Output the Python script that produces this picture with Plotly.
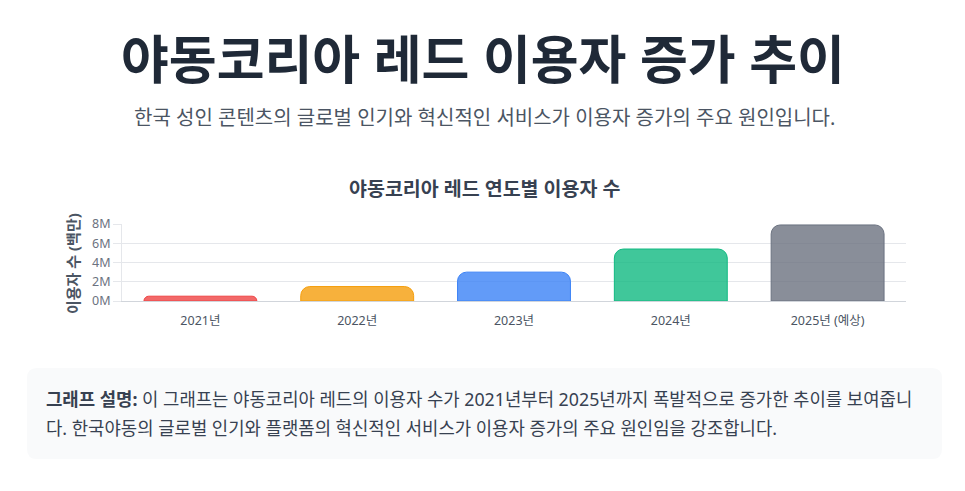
import plotly.graph_objects as go

# -----------------------------------
# data
# -----------------------------------
years = ["2021년", "2022년", "2023년", "2024년", "2025년 (예상)"]
users_m = [0.5, 1.5, 3.0, 5.4, 7.9]
y_ticks = [0, 2, 4, 6, 8]
y_tick_labels = ["0M", "2M", "4M", "6M", "8M"]

fill_colors = ["rgba(239,68,68,0.8)", "rgba(245,158,11,0.8)", "rgba(59,130,246,0.8)",
               "rgba(16,185,129,0.8)", "rgba(107,114,128,0.8)"]
line_colors = ["#ef4444", "#f59e0b", "#3b82f6", "#10b981", "#6b7280"]

title = "야동코리아 레드 이용자 증가 추이"
subtitle = "한국 성인 콘텐츠의 글로벌 인기와 혁신적인 서비스가 이용자 증가의 주요 원인입니다."
chart_title = "야동코리아 레드 연도별 이용자 수"
y_title = "이용자 수 (백만)"
note_1 = ("<b>그래프 설명:</b> 이 그래프는 야동코리아 레드의 이용자 수가 "
          "2021년부터 2025년까지 폭발적으로 증가한 추이를 보여줍니")
note_2 = "다. 한국야동의 글로벌 인기와 플랫폼의 혁신적인 서비스가 이용자 증가의 주요 원인임을 강조합니다."

FONT = "Noto Sans, Noto Sans CJK KR, sans-serif"

# page geometry (pixels in the browser window) -> plot area
PAGE_OFFSET = 8  # body margin of the html page
W, H = 965 - PAGE_OFFSET, 491 - PAGE_OFFSET
L, R, T, B = 122, 906, 224, 301


def px_x(px):
    return (px - L) / (R - L)


def px_y(py):
    return (B - py) / (B - T)


fig = go.Figure()
fig.add_trace(go.Bar(
    x=years,
    y=users_m,
    marker=dict(color=fill_colors, line=dict(color=line_colors, width=1), cornerradius=9),
    hovertemplate="%{x}: %{y}M<extra></extra>",
))

# rounded background box for the note
x0, x1, y0, y1, r = 27, 942, 368, 459, 10
path = (
    f"M {px_x(x0 + r)},{px_y(y0)} L {px_x(x1 - r)},{px_y(y0)} "
    f"Q {px_x(x1)},{px_y(y0)} {px_x(x1)},{px_y(y0 + r)} "
    f"L {px_x(x1)},{px_y(y1 - r)} Q {px_x(x1)},{px_y(y1)} {px_x(x1 - r)},{px_y(y1)} "
    f"L {px_x(x0 + r)},{px_y(y1)} Q {px_x(x0)},{px_y(y1)} {px_x(x0)},{px_y(y1 - r)} "
    f"L {px_x(x0)},{px_y(y0 + r)} Q {px_x(x0)},{px_y(y0)} {px_x(x0 + r)},{px_y(y0)} Z"
)
fig.add_shape(type="path", path=path, xref="paper", yref="paper",
              fillcolor="#f9fafb", line=dict(width=0), layer="below")

texts = [
    (title, 483, 58, 52, "#1f2937", True, "center"),
    (subtitle, 484, 117, 20, "#4b5563", False, "center"),
    (chart_title, 485, 188, 19.5, "#374151", True, "center"),
    (note_1, 44, 399, 17.8, "#374151", False, "left"),
    (note_2, 44, 428, 17.8, "#374151", False, "left"),
]
for txt, px, py, size, color, bold, anchor in texts:
    fig.add_annotation(
        text=f"<b>{txt}</b>" if bold else txt,
        x=px_x(px), y=px_y(py), xref="paper", yref="paper",
        xanchor=anchor, yanchor="middle", showarrow=False,
        font=dict(family=FONT, size=size, color=color),
    )

fig.add_annotation(
    text=f"<b>{y_title}</b>", x=px_x(73), y=px_y(264), xref="paper", yref="paper",
    xanchor="center", yanchor="middle", showarrow=False, textangle=-90,
    font=dict(family=FONT, size=15, color="#4b5563"),
)

fig.update_layout(
    width=W, height=H,
    margin=dict(l=L - PAGE_OFFSET, r=W - (R - PAGE_OFFSET), t=T - PAGE_OFFSET,
                b=H - (B - PAGE_OFFSET)),
    paper_bgcolor="white", plot_bgcolor="white",
    showlegend=False, bargap=0.28,
    font=dict(family=FONT),
)
fig.update_xaxes(
    showgrid=False, showline=True, linecolor="#d1d5db", linewidth=1,
    ticks="outside", ticklen=8, tickcolor="rgba(0,0,0,0)",
    tickfont=dict(size=12.5, color="#4b5563"),
)
fig.update_yaxes(
    range=[0, 8], tickvals=y_ticks, ticktext=y_tick_labels,
    showgrid=True, gridcolor="#e5e7eb", zeroline=False,
    showline=True, linecolor="#e5e7eb",
    ticks="outside", ticklen=8, tickcolor="#e5e7eb",
    tickfont=dict(size=12.5, color="#6b7280"),
)

fig.write_html("out.html")
